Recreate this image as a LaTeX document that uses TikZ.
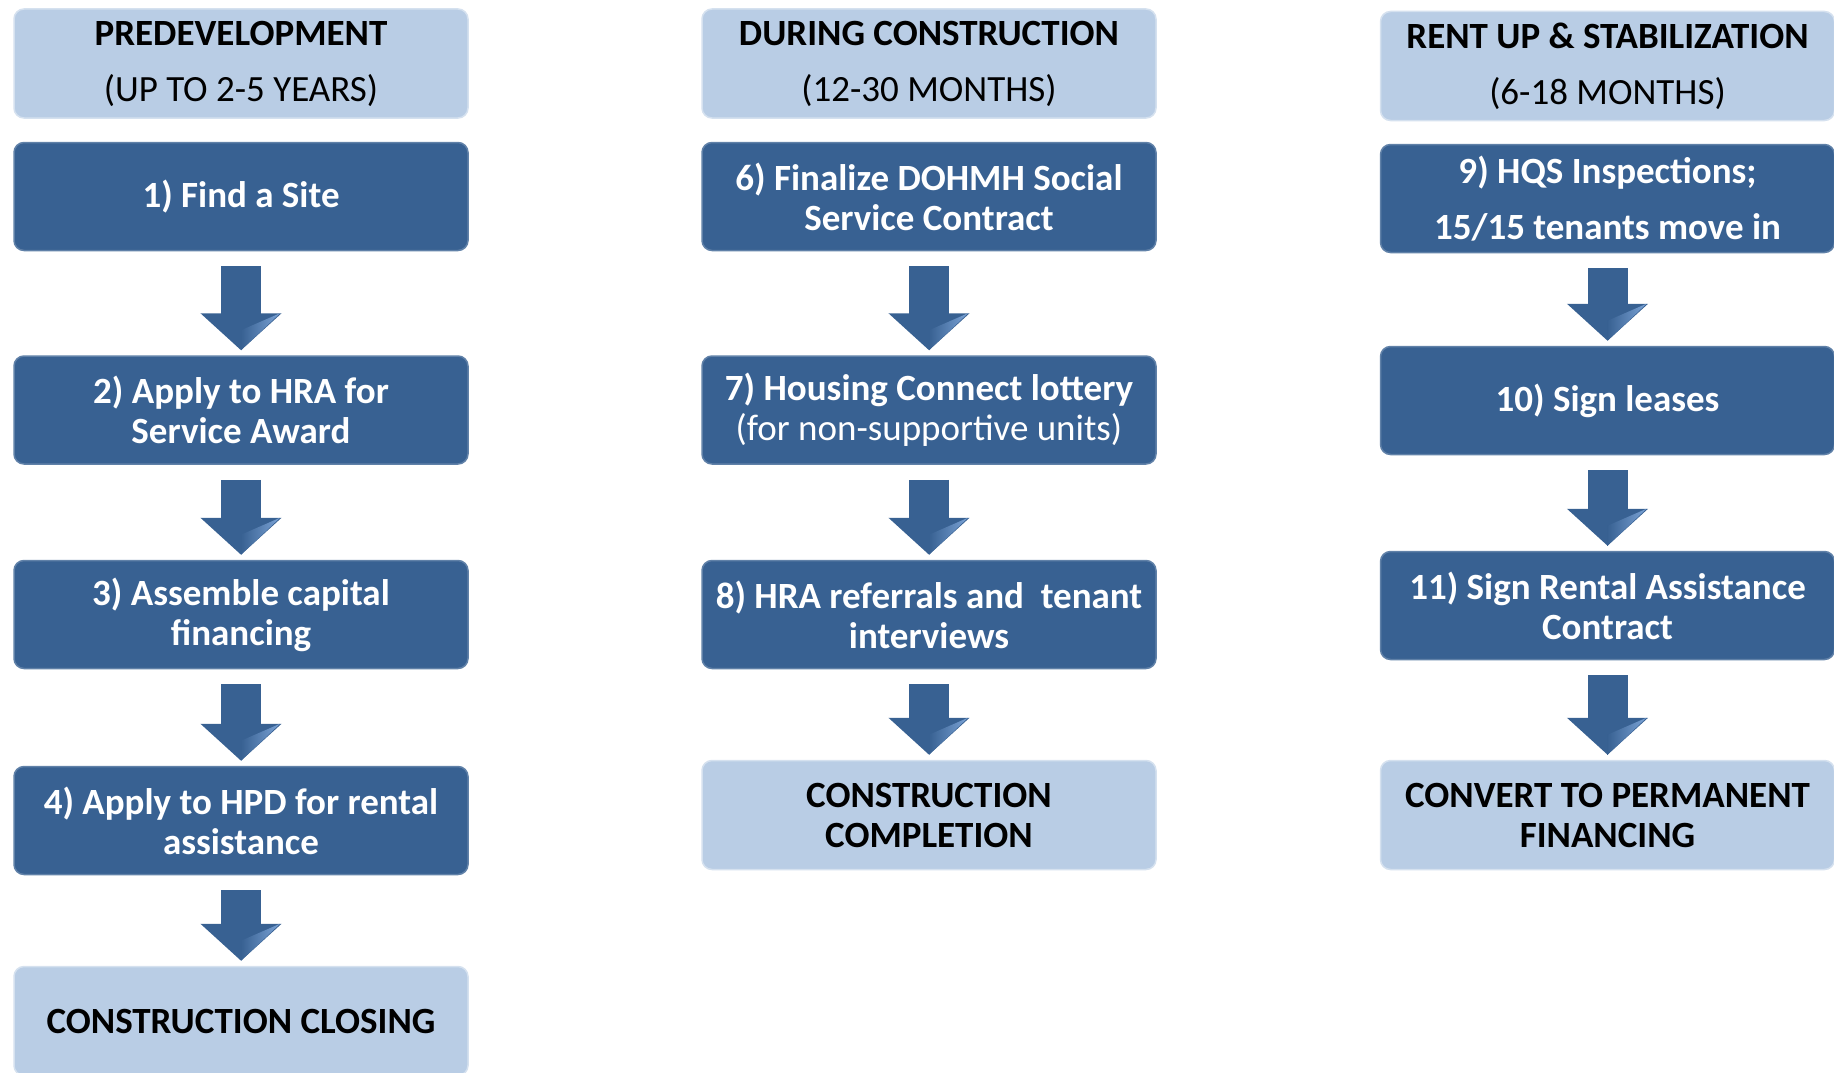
\documentclass[tikz,border=0pt]{standalone}
\usepackage{fontspec}
\setmainfont{Carlito}
\usetikzlibrary{arrows.meta}

\definecolor{stepblue}{HTML}{386192}
\definecolor{phaseblue}{HTML}{B9CDE5}
\definecolor{foldblue}{HTML}{7BA3D6}

\begin{document}
\begin{tikzpicture}[x=1pt,y=1pt,font=\fontsize{37}{40}\selectfont]
            \tikzstyle{phase}=[rounded corners=10pt,fill=phaseblue,draw=phaseblue!60!white,line width=1.5pt,minimum width=454pt,minimum height=109pt,align=center,inner sep=0pt]
            \tikzstyle{task}=[rounded corners=10pt,fill=stepblue,draw=stepblue!80!white,line width=1.5pt,minimum width=454pt,minimum height=108pt,align=center,inner sep=0pt,text=white,font=\fontsize{37}{40}\selectfont\bfseries]
            \tikzstyle{flow}=[draw=stepblue,line width=40pt,-{Triangle[length=37pt,width=79pt]},shorten <=15pt,shorten >=5pt]
            \useasboundingbox (0,0) rectangle (1834,-1073);
            % predevelopment
            \node[phase] (pre) at (241,-63.5) {\textbf{PREDEVELOPMENT}\\[16pt](UP TO 2-5 YEARS)};
            \node[task] (s1) at (241,-196.5) {1) Find a Site};
            \node[task] (s2) at (241,-410) {2) Apply to HRA for\\Service Award};
            \node[task] (s3) at (241,-614.5) {3) Assemble capital\\financing};
            \node[task] (s4) at (241,-820.5) {4) Apply to HPD for rental\\assistance};
            \node[phase] (closing) at (241,-1021) {\textbf{CONSTRUCTION CLOSING}};
            % during construction
            \node[phase] (dur) at (929,-63.5) {\textbf{DURING CONSTRUCTION}\\[16pt](12-30 MONTHS)};
            \node[task] (s6) at (929,-196.5) {6) Finalize DOHMH Social\\Service Contract};
            \node[task] (s7) at (929,-410) {7) Housing Connect lottery\\{\mdseries (for non-supportive units)}};
            \node[task] (s8) at (929,-614.5) {8) HRA referrals and \ tenant\\interviews};
            \node[phase] (completion) at (929,-815) {\textbf{CONSTRUCTION}\\\textbf{COMPLETION}};
            % rent up
            \node[phase] (rent) at (1607.5,-66) {\textbf{RENT UP \& STABILIZATION}\\[16pt](6-18 MONTHS)};
            \node[task] (s9) at (1607.5,-198.5) {9) HQS Inspections;\\[16pt]15/15 tenants move in};
            \node[task] (s10) at (1607.5,-400.5) {10) Sign leases};
            \node[task] (s11) at (1607.5,-605.5) {11) Sign Rental Assistance\\Contract};
            \node[phase] (convert) at (1607.5,-815) {\textbf{CONVERT TO PERMANENT}\\\textbf{FINANCING}};
            % block arrows
            \foreach \a/\b in {s1/s2,s2/s3,s3/s4,s4/closing,s6/s7,s7/s8,s8/completion,s9/s10,s10/s11,s11/convert}{
              \draw[flow] (\a.south) -- (\b.north);
              \shade[left color=stepblue,right color=foldblue] ([yshift=5pt]\b.north) -- ++(0,20) -- ++(39,17) -- cycle;
            }
          \end{tikzpicture}
\end{document}
